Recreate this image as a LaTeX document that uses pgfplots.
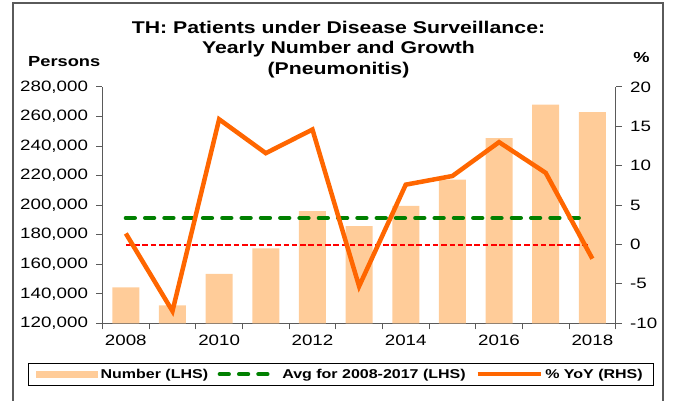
\documentclass[border=0pt]{standalone}
\usepackage{fontspec}
\setmainfont{Liberation Sans}[FakeStretch=1.25]
\usepackage{pgfplots}
\pgfplotsset{compat=1.18}
\definecolor{barc}{RGB}{255,204,153}
\definecolor{orangel}{RGB}{255,102,0}
\definecolor{greenl}{RGB}{0,128,0}
\definecolor{axisgray}{RGB}{90,90,90}
\pgfplotsset{
  common/.style={
    scale only axis, width=513.2pt, height=236.3pt,
    at={(102.5pt,77.7pt)}, anchor=south west,
    xmin=-0.5, xmax=10.5,
    tick align=outside, major tick length=6pt,
    every tick/.style={axisgray, line width=1pt},
    axis line style={axisgray, line width=1.2pt},
    tick label style={font=\fontsize{15}{15}\selectfont},
    scaled y ticks=false,
  }
}
\begin{document}
\begin{tikzpicture}[x=1pt,y=1pt]
\path[use as bounding box] (0,0) rectangle (673,401);
\draw[axisgray, line width=1.2pt] (13,0) -- (13,398) -- (663,398) -- (663,0);

\begin{axis}[common,
  axis x line*=bottom, axis y line*=left,
  ymin=120000, ymax=280000,
  ytick={120000,140000,160000,180000,200000,220000,240000,260000,280000},
  yticklabels={{120,000},{140,000},{160,000},{180,000},{200,000},{220,000},{240,000},{260,000},{280,000}},
  yticklabel style={xshift=-5pt},
  xtick={-0.5,0.5,1.5,2.5,3.5,4.5,5.5,6.5,7.5,8.5,9.5,10.5},
  xticklabels={},
  extra x ticks={0,2,4,6,8,10},
  extra x tick labels={2008,2010,2012,2014,2016,2018},
  extra x tick style={major tick length=0pt, xticklabel style={yshift=-8.5pt}},
]
\addplot[ybar, bar width=27pt, fill=barc, draw=none] coordinates {
  (0,144400) (1,132200) (2,153400) (3,170800) (4,195900) (5,185800)
  (6,199500) (7,217200) (8,245400) (9,268000) (10,263000)};
\addplot[greenl, line width=4.3pt, line cap=round, dash pattern=on 9pt off 10.3pt]
  coordinates {(0,191300) (9.8,191300)};
\end{axis}

\begin{axis}[common,
  axis y line*=right, hide x axis,
  ymin=-10, ymax=20,
  ytick={-10,-5,0,5,10,15,20},
  yticklabels={-10,-5,0,5,10,15,20},
  yticklabel style={xshift=5pt},
  legend columns=3,
  legend style={at={(axis description cs:0.4641,-0.2153)}, anchor=center,
    draw=black, line width=1pt, inner xsep=8pt, inner ysep=3pt,
    font=\fontsize{12.8}{14}\selectfont\bfseries,
    nodes={inner xsep=2.5pt, inner ysep=2.5pt},
    /tikz/every even column/.append style={column sep=7pt}},
]
\addlegendimage{legend image code/.code={\fill[barc] (0pt,-3pt) rectangle (61pt,3pt);}}
\addlegendentry{Number (LHS)}
\addlegendimage{legend image code/.code={\draw[greenl, line width=4.3pt, line cap=round, dash pattern=on 9pt off 10.3pt] (2.15pt,0pt) -- (60pt,0pt);}}
\addlegendentry{Avg for 2008-2017 (LHS)}
\addplot[red, line width=2pt, dash pattern=on 5.5pt off 2.8pt, forget plot]
  coordinates {(0,0) (9.9,0)};
\addplot[orangel, line width=4.5pt,
  legend image code/.code={\draw[orangel, line width=4.5pt] (0pt,0pt) -- (63pt,0pt);}]
  coordinates {(0,1.4) (1,-8.45) (2,15.9) (3,11.6) (4,14.6) (5,-5.3)
  (6,7.6) (7,8.7) (8,13.0) (9,9.1) (10,-1.8)};
\addlegendentry{\% YoY (RHS)}
\end{axis}

\node[anchor=base west, inner sep=0, font=\fontsize{14.6}{15}\selectfont\bfseries] at (28,334) {Persons};
\node[anchor=base, inner sep=0, font=\fontsize{14.6}{15}\selectfont\bfseries] at (641.5,338.5) {\%};
\node[anchor=base, inner sep=0, font=\fontsize{17}{17}\selectfont\bfseries] at (338.5,367) {TH: Patients under Disease Surveillance:};
\node[anchor=base, inner sep=0, font=\fontsize{17}{17}\selectfont\bfseries] at (338.5,347) {Yearly Number and Growth};
\node[anchor=base, inner sep=0, font=\fontsize{17}{17}\selectfont\bfseries] at (338.5,326) {(Pneumonitis)};
\end{tikzpicture}
\end{document}
